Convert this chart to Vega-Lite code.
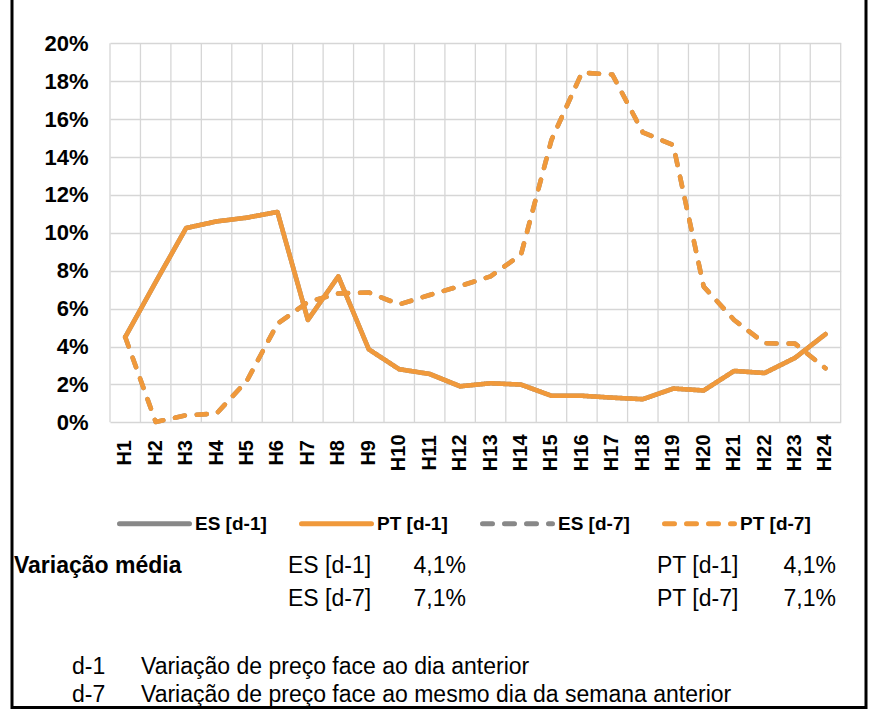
{
  "$schema": "https://vega.github.io/schema/vega-lite/v6.json",
  "width": 854,
  "height": 712.5,
  "autosize": {"type": "none"},
  "padding": {"left": 12, "top": -5, "right": 6, "bottom": 2.5},
  "background": "white",
  "config": {
    "view": {"stroke": "#000000", "strokeWidth": 3},
    "font": "Liberation Sans"
  },
  "resolve": {"scale": {"x": "independent", "y": "independent"}},
  "layer": [
    {
      "data": {
        "values": [
          {"hour": "H1", "es_d1": 4.5, "pt_d1": 4.5, "es_d7": 4.5, "pt_d7": 4.5},
          {"hour": "H2", "es_d1": 7.4, "pt_d1": 7.4, "es_d7": 0.02, "pt_d7": 0.02},
          {"hour": "H3", "es_d1": 10.25, "pt_d1": 10.25, "es_d7": 0.37, "pt_d7": 0.37},
          {"hour": "H4", "es_d1": 10.6, "pt_d1": 10.6, "es_d7": 0.46, "pt_d7": 0.46},
          {"hour": "H5", "es_d1": 10.8, "pt_d1": 10.8, "es_d7": 2.2, "pt_d7": 2.2},
          {"hour": "H6", "es_d1": 11.1, "pt_d1": 11.1, "es_d7": 5.2, "pt_d7": 5.2},
          {"hour": "H7", "es_d1": 5.4, "pt_d1": 5.4, "es_d7": 6.35, "pt_d7": 6.35},
          {"hour": "H8", "es_d1": 7.7, "pt_d1": 7.7, "es_d7": 6.8, "pt_d7": 6.8},
          {"hour": "H9", "es_d1": 3.85, "pt_d1": 3.85, "es_d7": 6.85, "pt_d7": 6.85},
          {"hour": "H10", "es_d1": 2.8, "pt_d1": 2.8, "es_d7": 6.22, "pt_d7": 6.22},
          {"hour": "H11", "es_d1": 2.55, "pt_d1": 2.55, "es_d7": 6.72, "pt_d7": 6.72},
          {"hour": "H12", "es_d1": 1.9, "pt_d1": 1.9, "es_d7": 7.19, "pt_d7": 7.19},
          {"hour": "H13", "es_d1": 2.06, "pt_d1": 2.06, "es_d7": 7.7, "pt_d7": 7.7},
          {"hour": "H14", "es_d1": 1.99, "pt_d1": 1.99, "es_d7": 8.85, "pt_d7": 8.85},
          {"hour": "H15", "es_d1": 1.4, "pt_d1": 1.4, "es_d7": 14.9, "pt_d7": 14.9},
          {"hour": "H16", "es_d1": 1.4, "pt_d1": 1.4, "es_d7": 18.45, "pt_d7": 18.45},
          {"hour": "H17", "es_d1": 1.3, "pt_d1": 1.3, "es_d7": 18.35, "pt_d7": 18.35},
          {"hour": "H18", "es_d1": 1.22, "pt_d1": 1.22, "es_d7": 15.3, "pt_d7": 15.3},
          {"hour": "H19", "es_d1": 1.78, "pt_d1": 1.78, "es_d7": 14.63, "pt_d7": 14.63},
          {"hour": "H20", "es_d1": 1.68, "pt_d1": 1.68, "es_d7": 7.16, "pt_d7": 7.16},
          {"hour": "H21", "es_d1": 2.71, "pt_d1": 2.71, "es_d7": 5.4, "pt_d7": 5.4},
          {"hour": "H22", "es_d1": 2.6, "pt_d1": 2.6, "es_d7": 4.17, "pt_d7": 4.17},
          {"hour": "H23", "es_d1": 3.4, "pt_d1": 3.4, "es_d7": 4.15, "pt_d7": 4.15},
          {"hour": "H24", "es_d1": 4.65, "pt_d1": 4.65, "es_d7": 2.85, "pt_d7": 2.85}
        ]
      },
      "transform": [{"fold": ["es_d1", "pt_d1", "es_d7", "pt_d7"], "as": ["series", "v"]}],
      "encoding": {
        "x": {
          "field": "hour",
          "type": "nominal",
          "scale": {
            "type": "band",
            "domain": ["H1","H2","H3","H4","H5","H6","H7","H8","H9","H10","H11","H12","H13","H14","H15","H16","H17","H18","H19","H20","H21","H22","H23","H24"],
            "range": [98, 828.7],
            "paddingInner": 0,
            "paddingOuter": 0
          },
          "axis": {
            "title": null,
            "orient": "bottom",
            "grid": false,
            "domain": false,
            "ticks": false,
            "tickSize": 0,
            "labelAngle": -90,
            "labelAlign": "center",
            "labelBaseline": "middle",
            "labelPadding": -255.2,
            "labelOverlap": false,
            "labelFont": "Liberation Sans",
            "labelFontSize": 20,
            "labelFontWeight": "bold",
            "labelColor": "#000000"
          }
        },
        "y": {
          "field": "v",
          "type": "quantitative",
          "scale": {"domain": [0, 20], "range": [427.3, 48.3], "zero": false, "nice": false},
          "axis": {
            "title": null,
            "orient": "left",
            "values": [0, 2, 4, 6, 8, 10, 12, 14, 16, 18, 20],
            "grid": true,
            "gridColor": "#D6D6D6",
            "gridWidth": 1.3,
            "domain": false,
            "ticks": false,
            "tickSize": 0,
            "labelPadding": -76,
            "labelAlign": "right",
            "labelExpr": "datum.value + '%'",
            "labelFont": "Liberation Sans",
            "labelFontSize": 22,
            "labelFontWeight": "bold",
            "labelColor": "#000000"
          }
        },
        "color": {
          "field": "series",
          "type": "nominal",
          "scale": {
            "domain": ["es_d1", "pt_d1", "es_d7", "pt_d7"],
            "range": ["#888888", "#F0993B", "#888888", "#F0993B"]
          },
          "legend": {
            "title": null,
            "orient": "none",
            "legendX": 105,
            "legendY": 491,
            "direction": "horizontal",
            "columns": 4,
            "padding": 0,
            "symbolType": "stroke",
            "symbolSize": 4900,
            "symbolStrokeWidth": 5,
            "labelFont": "Liberation Sans",
            "labelFontSize": 19,
            "labelFontWeight": "bold",
            "labelColor": "#000000",
            "labelOffset": 3,
            "labelLimit": 0,
            "columnPadding": 24,
            "labelExpr": "datum.value == 'es_d1' ? 'ES [d-1]' : datum.value == 'pt_d1' ? 'PT [d-1]' : datum.value == 'es_d7' ? 'ES [d-7]' : 'PT [d-7]'",
            "encode": {"symbols": {"update": {"strokeCap": {"value": "round"}}}}
          }
        },
        "strokeDash": {
          "field": "series",
          "type": "nominal",
          "scale": {
            "domain": ["es_d1", "pt_d1", "es_d7", "pt_d7"],
            "range": [[1, 0], [1, 0], [10, 12], [10, 12]]
          },
          "legend": {
            "title": null,
            "orient": "none",
            "legendX": 105,
            "legendY": 491,
            "direction": "horizontal",
            "columns": 4,
            "padding": 0,
            "symbolType": "stroke",
            "symbolSize": 4900,
            "symbolStrokeWidth": 5,
            "labelFont": "Liberation Sans",
            "labelFontSize": 19,
            "labelFontWeight": "bold",
            "labelColor": "#000000",
            "labelOffset": 3,
            "labelLimit": 0,
            "columnPadding": 24,
            "labelExpr": "datum.value == 'es_d1' ? 'ES [d-1]' : datum.value == 'pt_d1' ? 'PT [d-1]' : datum.value == 'es_d7' ? 'ES [d-7]' : 'PT [d-7]'",
            "encode": {"symbols": {"update": {"strokeCap": {"value": "round"}}}}
          }
        }
      },
      "layer": [
        {
          "transform": [{"filter": "datum.series == 'pt_d1'"}],
          "mark": {"type": "rule", "strokeWidth": 1.3},
          "encoding": {
            "x": {"field": "hour", "type": "nominal", "bandPosition": 0},
            "y": {"datum": 0},
            "y2": {"datum": 20},
            "color": {"value": "#D6D6D6"},
            "strokeDash": {"value": [1, 0]}
          }
        },
        {
          "transform": [{"filter": "datum.series == 'pt_d1' && datum.hour == 'H24'"}],
          "mark": {"type": "rule", "strokeWidth": 1.3},
          "encoding": {
            "x": {"field": "hour", "type": "nominal", "bandPosition": 1},
            "y": {"datum": 0},
            "y2": {"datum": 20},
            "color": {"value": "#D6D6D6"},
            "strokeDash": {"value": [1, 0]}
          }
        },
        {
          "transform": [{"filter": "datum.series == 'es_d1' || datum.series == 'es_d7'"}],
          "mark": {"type": "line", "strokeWidth": 4.6, "strokeCap": "round", "strokeJoin": "round"}
        },
        {
          "transform": [{"filter": "datum.series == 'pt_d1' || datum.series == 'pt_d7'"}],
          "mark": {"type": "line", "strokeWidth": 4.6, "strokeCap": "round", "strokeJoin": "round"}
        }
      ]
    },
    {
      "data": {
        "values": [
          {"t": "Variação média", "col": 0, "line": 0, "kind": "title"},
          {"t": "ES [d-1]", "col": 1, "line": 0, "kind": "label"},
          {"t": "4,1%", "col": 2, "line": 0, "kind": "value"},
          {"t": "PT [d-1]", "col": 3, "line": 0, "kind": "label"},
          {"t": "4,1%", "col": 4, "line": 0, "kind": "value"},
          {"t": "ES [d-7]", "col": 1, "line": 1, "kind": "label"},
          {"t": "7,1%", "col": 2, "line": 1, "kind": "value"},
          {"t": "PT [d-7]", "col": 3, "line": 1, "kind": "label"},
          {"t": "7,1%", "col": 4, "line": 1, "kind": "value"},
          {"t": "d-1", "col": 5, "line": 2, "kind": "label"},
          {"t": "Variação de preço face ao dia anterior", "col": 6, "line": 2, "kind": "label"},
          {"t": "d-7", "col": 5, "line": 3, "kind": "label"},
          {"t": "Variação de preço face ao mesmo dia da semana anterior", "col": 6, "line": 3, "kind": "label"}
        ]
      },
      "encoding": {
        "x": {
          "field": "col",
          "type": "quantitative",
          "scale": {"domain": [0, 1, 2, 3, 4, 5, 6], "range": [2, 276, 454, 645, 824, 60, 129], "zero": false, "nice": false},
          "axis": null
        },
        "y": {
          "field": "line",
          "type": "quantitative",
          "scale": {"domain": [0, 1, 2, 3], "range": [578, 611, 678.5, 707], "zero": false, "nice": false},
          "axis": null
        },
        "text": {"field": "t"}
      },
      "layer": [
        {
          "transform": [{"filter": "datum.kind == 'title'"}],
          "mark": {"type": "text", "align": "left", "baseline": "alphabetic", "font": "Liberation Sans", "fontSize": 23, "fontWeight": "bold", "color": "#000000"}
        },
        {
          "transform": [{"filter": "datum.kind == 'label'"}],
          "mark": {"type": "text", "align": "left", "baseline": "alphabetic", "font": "Liberation Sans", "fontSize": 23, "color": "#000000"}
        },
        {
          "transform": [{"filter": "datum.kind == 'value'"}],
          "mark": {"type": "text", "align": "right", "baseline": "alphabetic", "font": "Liberation Sans", "fontSize": 23, "color": "#000000"}
        }
      ]
    }
  ]
}
